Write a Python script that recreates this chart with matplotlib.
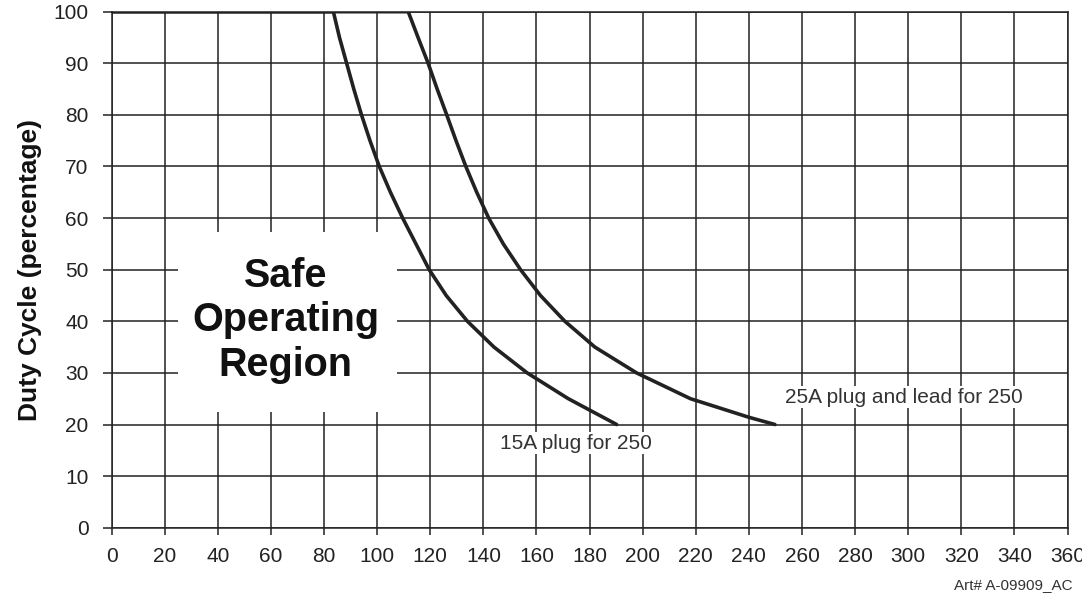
import numpy as np
import matplotlib
matplotlib.use("Agg")
import matplotlib.pyplot as plt
from matplotlib.patches import Rectangle

plt.rcParams["font.family"] = ["Liberation Sans", "DejaVu Sans"]

# curves (current vs duty cycle)
amps_15a = [0, 83.5, 85.8, 88.5, 91.2, 94.1, 97.3, 100.8, 105, 109.6, 114.6, 119.6,
            126, 134, 144, 156.5, 172, 180, 190.2]
duty_15a = [100, 100, 95, 90, 85, 80, 75, 70, 65, 60, 55, 50,
            45, 40, 35, 30, 25, 22.8, 20]

amps_25a = [0, 111.7, 115.4, 119.2, 122.6, 126.2, 129.7, 133.4, 137.5, 142, 147.5, 154,
            161.5, 170.7, 182, 197.7, 218, 240, 249.8]
duty_25a = [100, 100, 95, 90, 85, 80, 75, 70, 65, 60, 55, 50,
            45, 40, 35, 30, 25, 21.4, 20]

x_ticks = list(range(0, 361, 20))
y_ticks = list(range(0, 101, 10))

label_15a = "15A plug for 250"
label_25a = "25A plug and lead for 250"
region_text = "Safe\nOperating\nRegion"

ink = "#222222"

fig = plt.figure(figsize=(10.82, 5.93), dpi=100)
ax = fig.add_axes([0.1032, 0.1101, 0.8834, 0.8702])

ax.set_xlim(0, 360)
ax.set_ylim(0, 100)
ax.set_xticks(x_ticks)
ax.set_yticks(y_ticks)
ax.set_axisbelow(True)
ax.grid(True, color=ink, linewidth=1.1)
for s in ax.spines.values():
    s.set_color(ink)
    s.set_linewidth(1.1)

ax.tick_params(axis="y", length=6.5, width=1.1, color=ink, pad=10, labelsize=15, labelcolor=ink)
ax.tick_params(axis="x", length=5, width=1.1, color=ink, pad=9, labelsize=15, labelcolor=ink)

# white patch behind the region label
ax.add_patch(Rectangle((25, 22.4), 82.5, 34.9, facecolor="white", edgecolor="none", zorder=1))
ax.text(65.6, 40.2, region_text, ha="center", va="center", fontsize=28.5,
        fontweight="bold", color="#111111", linespacing=1.22, zorder=2)

ax.plot(amps_15a, duty_15a, color=ink, linewidth=2.6, zorder=3,
        solid_capstyle="round", solid_joinstyle="round")
ax.plot(amps_25a, duty_25a, color=ink, linewidth=2.6, zorder=3,
        solid_capstyle="round", solid_joinstyle="round")

ax.text(146.2, 16.4, label_15a, fontsize=15, color="#333333", va="center", ha="left",
        bbox=dict(facecolor="white", edgecolor="none", pad=1), zorder=2)
ax.text(253.6, 25.3, label_25a, fontsize=15, color="#333333", va="center", ha="left",
        bbox=dict(facecolor="white", edgecolor="none", pad=1), zorder=2)

ax.set_ylabel("Duty Cycle (percentage)", fontsize=19, fontweight="bold", color="#111111")
ax.yaxis.set_label_coords(-0.073, 0.5)

fig.text(1073 / 1082, 1 - 585 / 593, "Art# A-09909_AC", fontsize=11, color="#333333",
         ha="right", va="center")

fig.savefig("out.png", dpi=100)
